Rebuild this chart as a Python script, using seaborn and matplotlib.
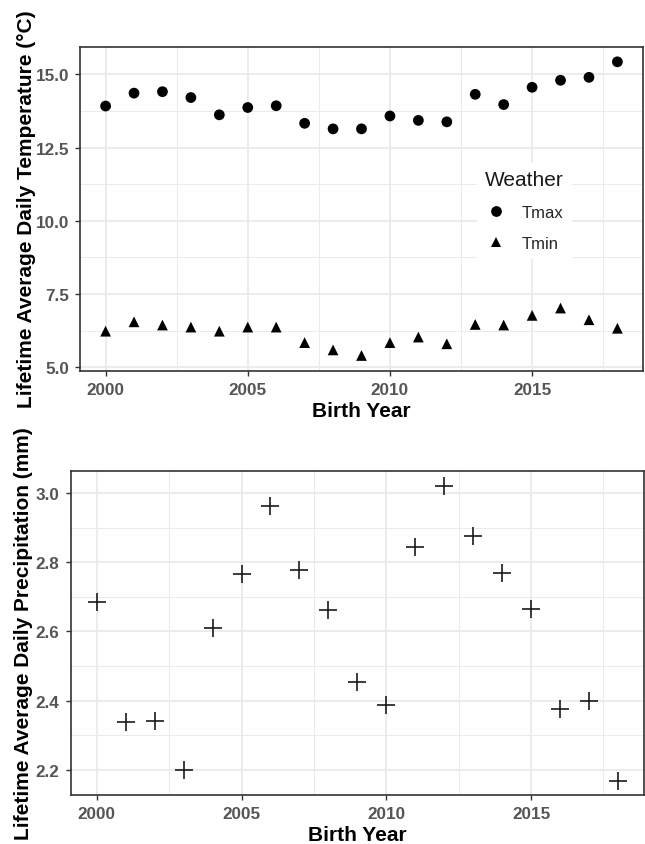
import matplotlib
matplotlib.use("Agg")
import matplotlib.pyplot as plt
from matplotlib.ticker import MultipleLocator, FormatStrFormatter
import seaborn as sns
import pandas as pd

# ---- data ----
years = list(range(2000, 2019))
tmax = [13.92, 14.36, 14.41, 14.21, 13.62, 13.87, 13.93, 13.33, 13.14, 13.14,
        13.58, 13.43, 13.38, 14.32, 13.97, 14.56, 14.80, 14.90, 15.43]
tmin = [6.23, 6.55, 6.44, 6.37, 6.23, 6.37, 6.37, 5.84, 5.59, 5.40,
        5.84, 6.03, 5.80, 6.46, 6.44, 6.77, 7.02, 6.62, 6.33]
precip = [2.684, 2.338, 2.342, 2.200, 2.610, 2.765, 2.962, 2.778, 2.663, 2.454,
          2.388, 2.843, 3.020, 2.877, 2.770, 2.666, 2.376, 2.400, 2.167]
weather_levels = ["Tmax", "Tmin"]

sns.set_theme(style="white")
plt.rcParams['font.family'] = ['Liberation Sans', 'DejaVu Sans']

W, H = 645, 845
fig = plt.figure(figsize=(W / 100, H / 100), dpi=100)

def px_axes(l, t, r, b):
    return fig.add_axes([l / W, 1 - b / H, (r - l) / W, (b - t) / H])

ax1 = px_axes(80, 47.6, 643, 371.7)
ax2 = px_axes(70.7, 471.5, 644, 796)

temp_df = pd.DataFrame({
    "Birth Year": years + years,
    "Temp": tmax + tmin,
    "Weather": [weather_levels[0]] * len(years) + [weather_levels[1]] * len(years),
})
prec_df = pd.DataFrame({"Birth Year": years, "Precip": precip})

sns.scatterplot(data=temp_df, x="Birth Year", y="Temp", style="Weather",
                markers={"Tmax": "o", "Tmin": "^"}, color="black",
                s=60, linewidth=0, ax=ax1, zorder=3)
sns.scatterplot(data=prec_df, x="Birth Year", y="Precip", marker="+",
                color="#1a1a1a", s=150, linewidth=1.2, ax=ax2, zorder=3)

def style(ax, ymaj, ymin_, ylim, fmt):
    ax.set_facecolor("white")
    ax.set_xlim(1999.1, 2018.9)
    ax.set_ylim(*ylim)
    ax.xaxis.set_major_locator(MultipleLocator(5))
    ax.xaxis.set_minor_locator(MultipleLocator(2.5))
    ax.yaxis.set_major_locator(MultipleLocator(ymaj))
    ax.yaxis.set_minor_locator(MultipleLocator(ymin_))
    ax.yaxis.set_major_formatter(FormatStrFormatter(fmt))
    ax.grid(True, which="major", color="#EBEBEB", linewidth=1.3, zorder=0)
    ax.grid(True, which="minor", color="#EBEBEB", linewidth=0.7, zorder=0)
    ax.set_axisbelow(True)
    for sp in ax.spines.values():
        sp.set_visible(True)
        sp.set_color("#333333")
        sp.set_linewidth(1.2)
    ax.tick_params(which="major", length=3.5, width=1, color="#333333",
                   labelcolor="#555555", labelsize=12.3, pad=4.5,
                   bottom=True, left=True)
    ax.tick_params(which="minor", length=0)
    for lab in ax.get_xticklabels() + ax.get_yticklabels():
        lab.set_fontweight("bold")

style(ax1, 2.5, 1.25, (4.88, 15.95), "%.1f")
style(ax2, 0.2, 0.1, (2.127, 3.065), "%.1f")

ax1.set_xlabel("Birth Year", fontsize=15, fontweight="bold", color="black")
ax2.set_xlabel("Birth Year", fontsize=15, fontweight="bold", color="black")
ax1.set_ylabel("Lifetime Average Daily Temperature (°C)", fontsize=15,
               fontweight="bold", color="black")
ax2.set_ylabel("Lifetime Average Daily Precipitation (mm)", fontsize=15,
               fontweight="bold", color="black")
ax1.xaxis.set_label_coords(0.5, -0.095)
ax2.xaxis.set_label_coords(0.5, -0.091)
ax1.yaxis.set_label_coords(-0.078, 0.5)
ax2.yaxis.set_label_coords(-0.066, 0.5)

sns.move_legend(ax1, loc="upper left",
                bbox_to_anchor=(477 / W, 1 - 163 / H),
                bbox_transform=fig.transFigure,
                frameon=True, facecolor="white", edgecolor="none",
                framealpha=1, fancybox=False, fontsize=12,
                title="Weather", title_fontsize=15,
                labelspacing=0.95, handletextpad=0.9, handlelength=1.2,
                borderpad=0.5, borderaxespad=0)
leg = ax1.get_legend()
leg.get_title().set_color("#1a1a1a")

fig.savefig("out.png", dpi=100)
